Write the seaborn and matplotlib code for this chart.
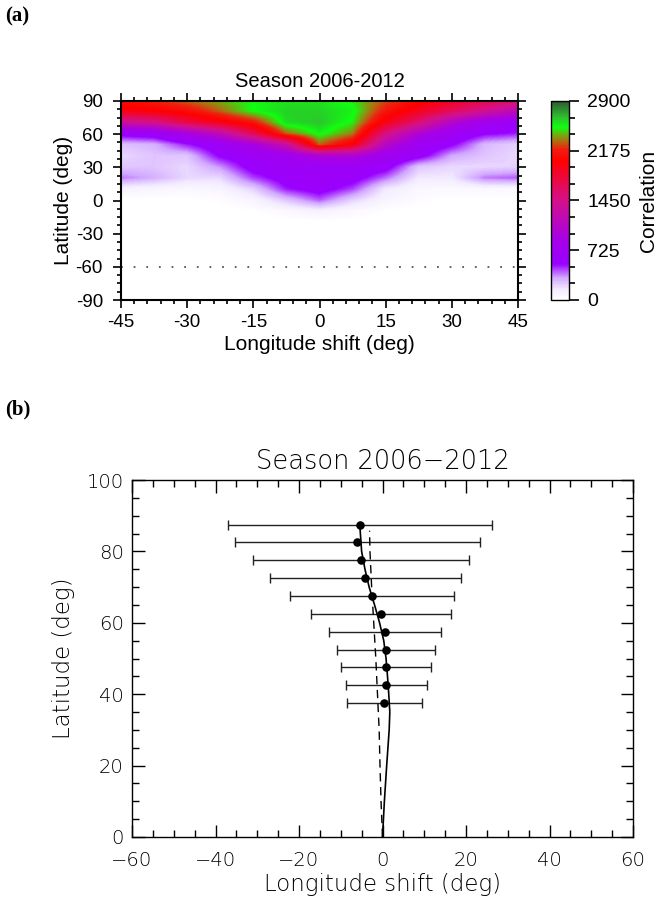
import numpy as np
import matplotlib
matplotlib.use("Agg")
import matplotlib.pyplot as plt
from matplotlib.colors import LinearSegmentedColormap
from matplotlib.ticker import MultipleLocator, FuncFormatter
import pandas as pd
import seaborn as sns

# ---------------- data: panel (a) correlation map ----------------
lon_grid = [-45, -37.5, -30, -22.5, -15, -7.5, 0, 7.5, 15, 22.5, 30, 37.5, 45]
lat_grid = [90, 80, 70, 60, 50, 40, 30, 20, 10, 0, -10, -20, -30, -40, -50, -60, -70, -80, -90]
corr_90 = [2100, 2200, 2330, 2420, 2520, 2580, 2580, 2480, 2280, 2100, 1900, 1750, 1600]
corr_80 = [1950, 2000, 2100, 2300, 2520, 2620, 2620, 2550, 2150, 1900, 1650, 1400, 1150]
corr_70 = [1350, 1450, 1750, 1950, 2150, 2600, 2650, 2500, 1950, 1550, 1050, 750, 650]
corr_60 = [600, 650, 900, 1200, 1700, 2300, 2550, 2350, 1500, 1000, 700, 550, 500]
corr_50 = [260, 300, 500, 650, 900, 1300, 2300, 2000, 1100, 700, 550, 280, 220]
corr_40 = [200, 250, 250, 550, 650, 750, 1000, 1000, 750, 600, 320, 250, 200]
corr_30 = [250, 250, 200, 350, 600, 650, 650, 650, 600, 250, 200, 200, 220]
corr_20 = [380, 300, 200, 200, 450, 600, 650, 600, 400, 150, 150, 380, 420]
corr_10 = [100, 80, 60, 80, 220, 500, 600, 450, 150, 60, 50, 60, 50]
corr_0 = [0, 0, 0, 20, 80, 250, 420, 220, 80, 30, 0, 0, 0]
corr_m10 = [0, 0, 0, 0, 10, 50, 100, 50, 10, 0, 0, 0, 0]
corr_south = [0] * 13  # -20 .. -90
cbar_ticks = [0, 725, 1450, 2175, 2900]
ref_lat = -60

# ---------------- data: panel (b) profile ----------------
pt_lat = [87.5, 82.5, 77.5, 72.5, 67.5, 62.5, 57.5, 52.5, 47.5, 42.5, 37.5]
pt_lon = [-5.45, -6.0, -5.1, -4.1, -2.6, -0.36, 0.6, 0.77, 0.91, 0.84, 0.36]
err_lo = [-37.1, -35.3, -31.0, -26.9, -22.2, -17.1, -12.8, -11.0, -9.9, -8.8, -8.6]
err_hi = [26.2, 23.4, 20.7, 18.9, 17.1, 16.3, 14.0, 12.5, 11.7, 10.7, 9.5]
fit_lat = [0, 10, 20, 30, 35, 40, 45, 50, 55, 60, 65, 70, 75, 80, 85, 87.5]
fit_lon = [0, 0.45, 1.0, 1.6, 1.75, 1.5, 1.2, 0.85, 0.3, -0.7, -1.9, -3.2, -4.2, -5.0, -5.3, -5.45]
dash_lat = [0, 10, 20, 30, 40, 50, 60, 70, 80, 85.8]
dash_lon = [0, -0.35, -0.6, -0.8, -1.2, -1.6, -2.1, -2.6, -3.0, -3.1]

sns.set_style("ticks")
plt.rcParams['font.family'] = ['Liberation Sans', 'DejaVu Sans']
for k in ['text.color', 'axes.labelcolor', 'xtick.color', 'ytick.color', 'axes.edgecolor']:
    plt.rcParams[k] = 'black'

fig = plt.figure(figsize=(6.61, 8.99), dpi=100)

# ---------------- panel (a) ----------------
cmap = LinearSegmentedColormap.from_list("corr", [
    (0.00, "#ffffff"),
    (0.05, "#f3ebff"),
    (0.11, "#d2a8ff"),
    (0.18, "#9900ff"),
    (0.30, "#a600e8"),
    (0.50, "#d4118a"),
    (0.70, "#ff0000"),
    (0.76, "#f02010"),
    (0.81, "#a08010"),
    (0.87, "#10ff10"),
    (0.92, "#30c030"),
    (1.00, "#2c5a2c"),
])

Z = np.array([corr_90, corr_80, corr_70, corr_60, corr_50, corr_40, corr_30,
              corr_20, corr_10, corr_0, corr_m10] + [corr_south] * 8, dtype=float)
dlon = lon_grid[1] - lon_grid[0]
dlat = lat_grid[0] - lat_grid[1]

axA = fig.add_axes([121/661, 1-300/899, 397/661, 199/899])
img = axA.imshow(Z, cmap=cmap, vmin=0, vmax=2900, aspect='auto', origin='upper',
                 interpolation='bilinear',
                 extent=[lon_grid[0] - dlon/2, lon_grid[-1] + dlon/2,
                         lat_grid[-1] - dlat/2, lat_grid[0] + dlat/2])
axA.plot([-45, 45], [ref_lat, ref_lat], linestyle=(0, (1, 6)), color='#555555', lw=1.3)
axA.set_xlim(-45, 45)
axA.set_ylim(-90, 90)
hyph = FuncFormatter(lambda v, p: f"{v:g}".replace("\u2212", "-"))
axA.xaxis.set_major_locator(MultipleLocator(15))
axA.xaxis.set_minor_locator(MultipleLocator(3))
axA.yaxis.set_major_locator(MultipleLocator(30))
axA.yaxis.set_minor_locator(MultipleLocator(7.5))
axA.xaxis.set_major_formatter(hyph)
axA.yaxis.set_major_formatter(hyph)
axA.tick_params(which='both', direction='out', top=True, right=True, labelsize=13.5,
                width=1.2, color='black')
axA.tick_params(which='major', length=6)
axA.tick_params(which='minor', length=3)
axA.tick_params(axis='y', pad=7)
axA.tick_params(axis='x', pad=4)
for s in axA.spines.values():
    s.set_linewidth(1.5)
axA.set_xlabel("Longitude shift (deg)", fontsize=15, labelpad=3)
axA.set_ylabel("Latitude (deg)", fontsize=15, labelpad=2)
axA.set_title("Season 2006-2012", fontsize=14.5, pad=10)

caxA = fig.add_axes([551/661, 1-300/899, 18/661, 199/899])
cb = fig.colorbar(img, cax=caxA, ticks=cbar_ticks)
cb.outline.set_linewidth(1.0)
caxA.yaxis.set_minor_locator(MultipleLocator(725/3))
caxA.tick_params(which='both', direction='out', labelsize=14, width=1.2, pad=6)
caxA.tick_params(which='major', length=7)
caxA.tick_params(which='minor', length=4)
cb.set_label("Correlation", fontsize=15, labelpad=6)

fig.text(5/661, 1-16/899, "(a)", fontsize=15, fontweight='bold',
         family='Liberation Serif', va='center', ha='left')

# ---------------- panel (b) ----------------
hershey = ['DejaVu Sans']
axB = fig.add_axes([132/661, 1-837/899, 501/661, 357/899])
pts = pd.DataFrame({"lon": pt_lon, "lat": pt_lat})
fit = pd.DataFrame({"lon": fit_lon, "lat": fit_lat})
dsh = pd.DataFrame({"lon": dash_lon, "lat": dash_lat})

xerr = np.array([np.array(pt_lon) - np.array(err_lo), np.array(err_hi) - np.array(pt_lon)])
axB.errorbar(pt_lon, pt_lat, xerr=xerr, fmt='none', ecolor='#222222', elinewidth=1.0,
             capsize=3.5, capthick=1.0, zorder=2)
sns.lineplot(data=fit, x="lon", y="lat", sort=False, estimator=None, color='black',
             lw=1.2, ax=axB, zorder=3)
sns.lineplot(data=dsh, x="lon", y="lat", sort=False, estimator=None, color='black',
             lw=1.0, ax=axB, zorder=3, dashes=False, linestyle=(0, (6, 4)))
sns.scatterplot(data=pts, x="lon", y="lat", color='black', s=38, edgecolor='black',
                linewidth=0, ax=axB, zorder=4)
axB.set_xlim(-60, 60)
axB.set_ylim(0, 100)
axB.xaxis.set_major_locator(MultipleLocator(20))
axB.xaxis.set_minor_locator(MultipleLocator(5))
axB.yaxis.set_major_locator(MultipleLocator(20))
axB.yaxis.set_minor_locator(MultipleLocator(5))
axB.tick_params(which='both', direction='in', top=True, right=True, width=1.0,
                labelsize=14)
axB.tick_params(which='major', length=9)
axB.tick_params(which='minor', length=5)
axB.tick_params(axis='x', pad=10)
axB.tick_params(axis='y', pad=6)
for s in axB.spines.values():
    s.set_linewidth(1.0)
for lab in axB.get_xticklabels() + axB.get_yticklabels():
    lab.set_family(hershey)
    lab.set_fontweight('light')
axB.set_xlabel("Longitude shift (deg)", fontsize=16.5, family=hershey, fontweight='light',
               labelpad=2)
axB.set_ylabel("Latitude (deg)", fontsize=16.5, family=hershey, fontweight='light',
               labelpad=8)
axB.set_title("Season 2006\u22122012", fontsize=18.5, family=hershey, fontweight='light',
              pad=8)

fig.text(5/661, 1-409/899, "(b)", fontsize=15, fontweight='bold',
         family='Liberation Serif', va='center', ha='left')

fig.savefig("out.png", dpi=100)
